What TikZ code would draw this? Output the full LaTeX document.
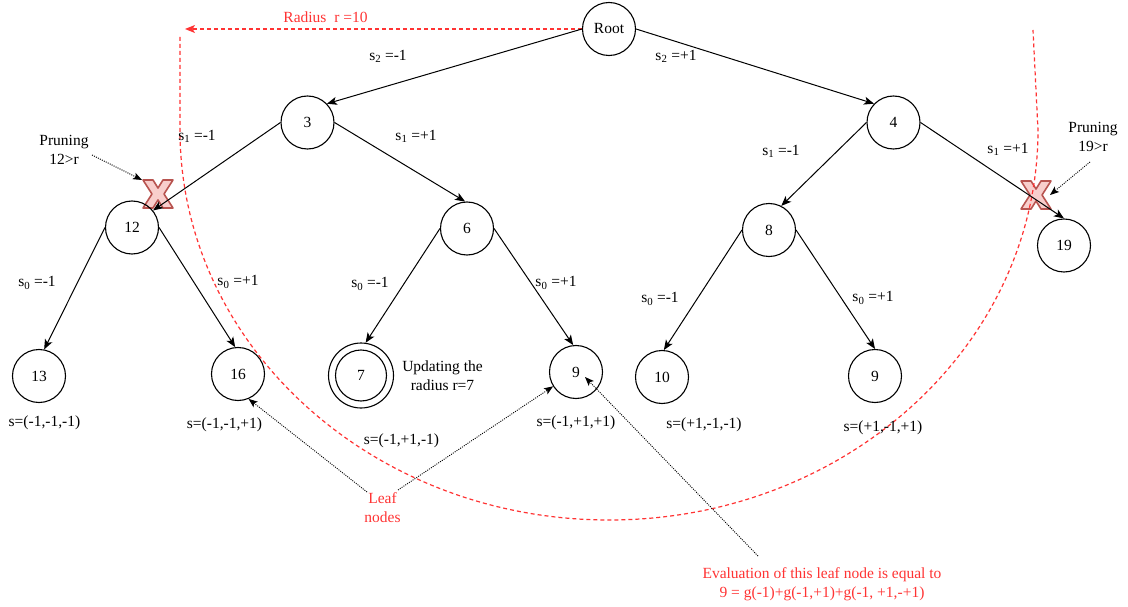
\documentclass[tikz,border=0pt]{standalone}
\usepackage{fontspec}
\setmainfont{Liberation Serif}
\usetikzlibrary{arrows.meta}
\definecolor{myred}{RGB}{255,51,51}
\definecolor{xfill}{RGB}{248,206,204}
\definecolor{xdraw}{RGB}{184,84,80}
\begin{document}
\begin{tikzpicture}[x=1pt,y=-1pt,
  font=\fontsize{15.5}{19}\selectfont,
  nd/.style={circle,draw,line width=1.1pt,minimum size=53pt,inner sep=0pt},
  edge/.style={-{Stealth[length=10pt,width=8pt,inset=2.5pt]},line width=1pt},
  dotarrow/.style={dash pattern=on 1pt off 1.2pt,line width=0.9pt,-{Stealth[length=9pt,width=7pt,inset=2pt]}},
  reddash/.style={myred,dash pattern=on 4pt off 3pt,line width=1.2pt},
  lbl/.style={inner sep=0pt,anchor=center},
  redlbl/.style={lbl,text=myred,align=center},
  xmk/.pic={\draw[xdraw,fill=xfill,line width=1.6pt,line join=round]
     (-15,-14) -- (-5,-14) -- (0,-6) -- (5,-14) -- (15,-14) -- (6,0) -- (15,14) -- (5,14)
     -- (0,6) -- (-5,14) -- (-15,14) -- (-6,0) -- cycle;}]
\useasboundingbox (0,0) rectangle (1128,607);

% pruning marks
\pic at (158,194) {xmk};
\pic at (1036,195) {xmk};

% nodes
\node[nd] (root) at (609,29) {Root};
\node[nd] (n3) at (307.5,122.5) {3};
\node[nd] (n4) at (893.5,122.5) {4};
\node[nd] (n12) at (132,227.5) {12};
\node[nd] (n6) at (467,228.5) {6};
\node[nd] (n8) at (769,230) {8};
\node[nd] (n19) at (1064,245.5) {19};
\node[nd] (n13) at (39,376) {13};
\node[nd] (n16) at (238,374) {16};
\node[nd,minimum size=65pt] (n7) at (361,375.5) {};
\node[nd,minimum size=51pt] (n7i) at (361,375.5) {7};
\node[nd] (n9a) at (576,372) {9};
\node[nd] (n10) at (662,377) {10};
\node[nd] (n9b) at (875,376) {9};

% radius
\coordinate (rad) at (185,29);
\draw[reddash,-{Stealth[length=10pt,width=8pt,inset=2.5pt]}] (root.west) -- (rad);
\node[redlbl] (radtxt) at (325.5,17) {Radius\ \ r =10};
\draw[reddash] (180,37) -- (180,130)
   arc[start angle=180,end angle=360,x radius=429pt,y radius=390pt] -- (1033,30);

% edges
\draw[edge] (root.west) -- (n3.44);
\draw[edge] (root.east) -- (n4.136);
\draw[edge] (n3.west) -- (n12.39);
\draw[edge] (n3.east) -- (n6.94);
\draw[edge] (n4.west) -- (n8.63);
\draw[edge] (n4.east) -- (n19.90);
\draw[edge] (n12.west) -- (n13.79);
\draw[edge] (n12.east) -- (n16.96);
\draw[edge] (n6.west) -- (n7.82);
\draw[edge] (n6.east) -- (n9a.96);
\draw[edge] (n8.west) -- (n10.86);
\draw[edge] (n8.east) -- (n9b.90);

% edge labels
\node[lbl] (e1) at (388,56) {s\textsubscript{2} =-1};
\node[lbl] (e2) at (676,56) {s\textsubscript{2} =+1};
\node[lbl] (e3) at (197,136) {s\textsubscript{1} =-1};
\node[lbl] (e4) at (416,136) {s\textsubscript{1} =+1};
\node[lbl] (e5) at (781,151) {s\textsubscript{1} =-1};
\node[lbl] (e6) at (1008,149) {s\textsubscript{1} =+1};
\node[lbl] (e7) at (37,283) {s\textsubscript{0} =-1};
\node[lbl] (e8) at (238,282) {s\textsubscript{0} =+1};
\node[lbl] (e9) at (370,284) {s\textsubscript{0} =-1};
\node[lbl] (e10) at (556,283) {s\textsubscript{0} =+1};
\node[lbl] (e11) at (660,299) {s\textsubscript{0} =-1};
\node[lbl] (e12) at (873,298) {s\textsubscript{0} =+1};

% leaf labels
\node[lbl] (s1) at (44.5,423) {s=(-1,-1,-1)};
\node[lbl] (s2) at (224.5,425) {s=(-1,-1,+1)};
\node[lbl] (s3) at (401.5,441) {s=(-1,+1,-1)};
\node[lbl] (s4) at (576,423) {s=(-1,+1,+1)};
\node[lbl] (s5) at (704,425) {s=(+1,-1,-1)};
\node[lbl] (s6) at (883,428) {s=(+1,-1,+1)};

\node[lbl,align=center] (upd) at (442.5,375.5) {Updating the\\radius r=7};

% pruning notes
\node[lbl,align=center] (pl) at (64,149.5) {Pruning\\12>r};
\node[lbl,align=center] (pr) at (1093,137) {Pruning\\19>r};
\coordinate (plt) at (142,180);
\coordinate (prt) at (1050,195);
\coordinate (pls) at (92,155);
\coordinate (prs) at (1090,162);
\draw[dotarrow] (pls) -- (plt);
\draw[dotarrow] (prs) -- (prt);

% leaf nodes note
\node[redlbl] (leaf) at (382.5,508) {Leaf\\nodes};
\coordinate (lf1) at (367,492);
\coordinate (lf2) at (398,490);
\draw[dotarrow] (lf1) -- (n16.-67);
\draw[dotarrow] (lf2) -- (n9a.212);

% evaluation note
\node[redlbl] (eval) at (822,584) {Evaluation of this leaf node is equal to\\9 = g(-1)+g(-1,+1)+g(-1, +1,-+1)};
\coordinate (evs) at (758,556);
\coordinate (evt) at (585,377);
\draw[dotarrow] (evs) -- (evt);
\end{tikzpicture}
\end{document}
